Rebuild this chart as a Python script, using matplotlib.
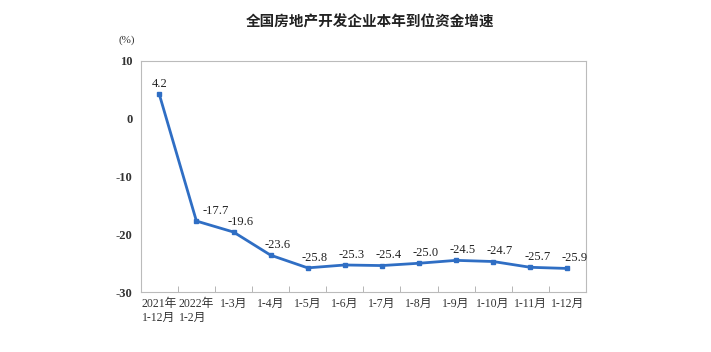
import matplotlib.pyplot as plt
import numpy as np

plt.rcParams['font.family'] = ['Liberation Serif', 'Noto Sans CJK SC']

# 数据
categories = ['2021年\n1-12月', '2022年\n1-2月', '1-3月', '1-4月', '1-5月', '1-6月',
              '1-7月', '1-8月', '1-9月', '1-10月', '1-11月', '1-12月']
values = [4.2, -17.7, -19.6, -23.6, -25.8, -25.3, -25.4, -25.0, -24.5, -24.7, -25.7, -25.9]
labels = ['4.2', '-17.7', '-19.6', '-23.6', '-25.8', '-25.3', '-25.4', '-25.0',
          '-24.5', '-24.7', '-25.7', '-25.9']
yticks = [10, 0, -10, -20, -30]

fig = plt.figure(figsize=(7.11, 3.52), dpi=100)
ax = fig.add_axes([0.198, 0.170, 0.626, 0.657])

x = np.arange(len(values))
ax.plot(x, values, color='#2F6EC4', linewidth=2, marker='s', markersize=3.5)

for i, (v, t) in enumerate(zip(values, labels)):
    if i == 0:
        dx = 0
    elif i == 1:
        dx = 14
    else:
        dx = 5
    ax.annotate(t, (i, v), xytext=(dx, 3), textcoords='offset points',
                ha='center', va='bottom', fontsize=9, color='#222222')

ax.set_xlim(-0.5, len(values) - 0.5)
ax.set_ylim(-30, 10)
ax.set_yticks(yticks)
ax.set_yticklabels([str(t) for t in yticks], fontsize=9, fontweight='bold', color='#333333')
ax.set_xticks(x)
ax.set_xticklabels(categories, fontsize=8.5, color='#333333', ha='center', va='top', linespacing=1.3)
ax.set_xticks(np.arange(0.5, len(values) - 1, 1), minor=True)
ax.tick_params(axis='x', which='major', length=0, pad=4)
ax.tick_params(axis='x', which='minor', length=4, direction='in', color='#AAAAAA')
ax.tick_params(axis='y', length=0, pad=6)
for lbl in ax.get_xticklabels():
    lbl.set_multialignment('left')

for s in ax.spines.values():
    s.set_color('#BBBBBB')
    s.set_linewidth(0.8)

fig.text(0.52, 0.94, '全国房地产开发企业本年到位资金增速', ha='center', va='center',
         fontsize=10.5, fontweight='bold', family=['Noto Sans CJK SC'], color='#222222')
fig.text(0.178, 0.885, '(%)', ha='center', va='center', fontsize=8, color='#333333')

fig.savefig('out.png', dpi=100)
